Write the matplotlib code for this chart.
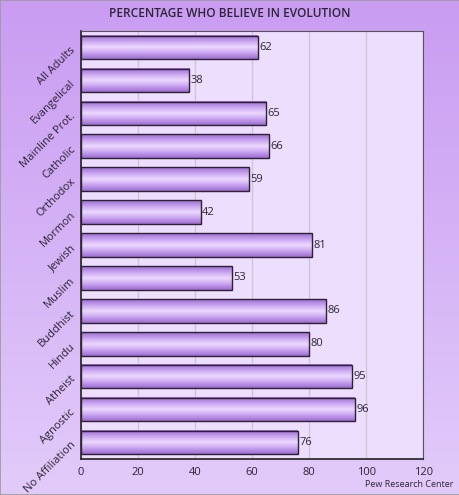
import numpy as np
import matplotlib.pyplot as plt
from matplotlib.colors import LinearSegmentedColormap
from matplotlib.patches import Rectangle

categories = ["All Adults", "Evangelical", "Mainline Prot.", "Catholic", "Orthodox",
              "Mormon", "Jewish", "Muslim", "Buddhist", "Hindu", "Atheist",
              "Agnostic", "No Affiliation"]
values = [62, 38, 65, 66, 59, 42, 81, 53, 86, 80, 95, 96, 76]
x_ticks = [0, 20, 40, 60, 80, 100, 120]

plt.rcParams["font.family"] = ["Open Sans", "DejaVu Sans"]
text_color = "#2e2436"

fig = plt.figure(figsize=(4.6, 4.95), dpi=100)

# background gradient
bg = fig.add_axes([0, 0, 1, 1], zorder=0)
bg_cmap = LinearSegmentedColormap.from_list("bg", ["#c99cf2", "#e2cbfa"])
bg.imshow(np.linspace(0, 1, 256).reshape(-1, 1), cmap=bg_cmap, aspect="auto",
          extent=(0, 1, 0, 1), origin="upper")
bg.add_patch(Rectangle((0.001, 0.001), 0.998, 0.998, transform=bg.transAxes,
                       fill=False, edgecolor="#9a9a9a", linewidth=1.2))
bg.set_xlim(0, 1)
bg.set_ylim(0, 1)
bg.set_axis_off()

ax = fig.add_axes([0.176, 0.073, 0.744, 0.864], zorder=1)
ax.set_facecolor("#ecdefc")

bar_cmap = LinearSegmentedColormap.from_list(
    "bar", ["#9c6cd2", "#c9a4f0", "#ecd9ff", "#c9a4f0", "#9c6cd2"])
grad = np.linspace(0, 1, 64).reshape(-1, 1)
h = 0.72
y = np.arange(len(categories))
for yi, v in zip(y, values):
    ax.imshow(grad, cmap=bar_cmap, aspect="auto",
              extent=(0, v, yi + h / 2, yi - h / 2), zorder=2)
    ax.text(v + 0.5, yi, str(v), va="center", ha="left", fontsize=8,
            color=text_color, zorder=3)
ax.barh(y, values, height=h, facecolor="none", edgecolor="#2e2230",
        linewidth=1.0, zorder=3)

ax.set_xlim(0, 120)
ax.set_ylim(len(categories) - 0.5, -0.5)
ax.set_xticks(x_ticks)
ax.set_xticklabels([str(t) for t in x_ticks], fontsize=8, color=text_color)
ax.set_yticks(y)
ax.set_yticklabels(categories, rotation=45, ha="right", rotation_mode="anchor",
                   fontsize=8, color=text_color)
ax.tick_params(axis="both", length=0, pad=6)
ax.grid(axis="x", color="#cfc8d4", linewidth=1, zorder=1)
ax.set_axisbelow(True)
for side in ["left", "bottom"]:
    ax.spines[side].set_color("#222222")
    ax.spines[side].set_linewidth(1.2)
for side in ["top", "right"]:
    ax.spines[side].set_color("#555555")
    ax.spines[side].set_linewidth(0.8)

fig.text(0.5, 0.972, "PERCENTAGE WHO BELIEVE IN EVOLUTION", ha="center", va="center",
         fontsize=8.6, fontweight="semibold", color=text_color)
fig.text(0.985, 0.012, "Pew Research Center", ha="right", va="bottom", fontsize=6.5,
         color=text_color)

fig.savefig("out.png", dpi=100)
